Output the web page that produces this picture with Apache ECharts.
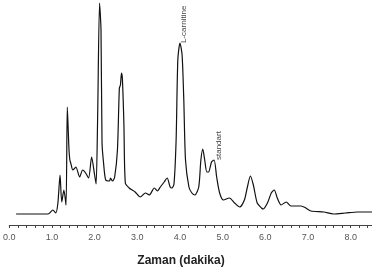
<!DOCTYPE html>
<html>
<head>
<meta charset="utf-8">
<script src="https://cdn.jsdelivr.net/npm/echarts@6/dist/echarts.min.js"></script>
<style>
  html, body { margin: 0; padding: 0; background: #fff; }
  #chart { width: 372px; height: 270px; }
</style>
</head>
<body>
<div id="chart"></div>
<script>
// retention time (min) and detector response
const times = [
  0.16, 0.91, 1.02, 1.09, 1.14, 1.19, 1.23, 1.28, 1.33, 1.36, 1.40, 1.42, 1.44, 1.49,
  1.56, 1.65, 1.72, 1.79, 1.86, 1.93, 2.00, 2.035, 2.07, 2.116, 2.15, 2.174, 2.21, 2.26,
  2.35, 2.37, 2.42, 2.47, 2.535, 2.58, 2.605, 2.63, 2.65, 2.686, 2.72, 2.81, 2.88, 2.95,
  3.07, 3.19, 3.28, 3.40, 3.47, 3.54, 3.63, 3.70, 3.77, 3.81, 3.86, 3.91, 3.95, 4.00,
  4.05, 4.09, 4.13, 4.21, 4.28, 4.35, 4.44, 4.49, 4.535, 4.58, 4.63, 4.67, 4.74, 4.80,
  4.86, 4.93, 5.02, 5.16, 5.28, 5.40, 5.51, 5.58, 5.65, 5.72, 5.81, 5.91, 5.95, 6.05,
  6.14, 6.21, 6.28, 6.37, 6.49, 6.60, 6.84, 6.95, 7.07, 7.37, 7.60, 7.88, 8.16, 8.5
]
const response = [
  11, 11, 15, 12, 22, 50, 23, 35, 20, 118, 75, 65, 62, 55,
  58, 48, 55, 52, 47, 68, 50, 41, 105, 222, 195, 82, 62, 45,
  44, 47, 44, 48, 75, 137, 140, 152, 147, 102, 42, 37, 35, 33,
  28, 32, 30, 37, 34, 38, 43, 47, 38, 37, 41, 85, 165, 182,
  170, 125, 65, 38, 32, 30, 38, 65, 76, 65, 53, 53, 63, 65,
  48, 32, 25, 27, 22, 18, 25, 38, 49, 40, 22, 17, 16, 22,
  32, 35, 27, 20, 23, 19, 19, 17, 14, 13, 11, 12, 13, 13
]
const peakLabels = ['L-carnitine', 'standart']

const chart = echarts.init(document.getElementById('chart'))
const fontFamily = '"Liberation Sans", Arial, sans-serif'

const option = {
  animation: false,
  grid: { left: 6, right: 0, top: 0, bottom: 45 },
  xAxis: {
    type: 'value',
    min: 0,
    max: 8.5,
    interval: 1,
    axisLine: { show: true, lineStyle: { color: '#444', width: 1 } },
    axisTick: { show: true, length: 3, lineStyle: { color: '#444' } },
    minorTick: { show: true, splitNumber: 5, length: 3, lineStyle: { color: '#444' } },
    splitLine: { show: false },
    axisLabel: {
      margin: 8,
      color: '#555',
      fontSize: 9,
      fontFamily: fontFamily,
      showMaxLabel: false,
      formatter: v => v.toFixed(1)
    }
  },
  yAxis: {
    type: 'value',
    min: 0,
    max: 225,
    show: false
  },
  graphic: [
    {
      type: 'text',
      x: 181,
      y: 261,
      style: {
        text: 'Zaman (dakika)',
        fontSize: 12,
        fontWeight: 'bold',
        fontFamily: fontFamily,
        fill: '#222',
        textAlign: 'center',
        textVerticalAlign: 'middle'
      }
    },
    {
      type: 'text',
      x: 184,
      y: 43,
      rotation: Math.PI / 2,
      style: {
        text: peakLabels[0],
        fontSize: 8,
        fontFamily: fontFamily,
        fill: '#444',
        textAlign: 'left',
        textVerticalAlign: 'middle'
      }
    },
    {
      type: 'text',
      x: 219,
      y: 160,
      rotation: Math.PI / 2,
      style: {
        text: peakLabels[1],
        fontSize: 8,
        fontFamily: fontFamily,
        fill: '#444',
        textAlign: 'left',
        textVerticalAlign: 'middle'
      }
    }
  ],
  series: [
    {
      type: 'line',
      showSymbol: false,
      smooth: 0.25,
      lineStyle: { color: '#111', width: 1.2 },
      data: times.map((t, i) => [t, response[i]])
    }
  ]
}
chart.setOption(option)
</script>
</body>
</html>
